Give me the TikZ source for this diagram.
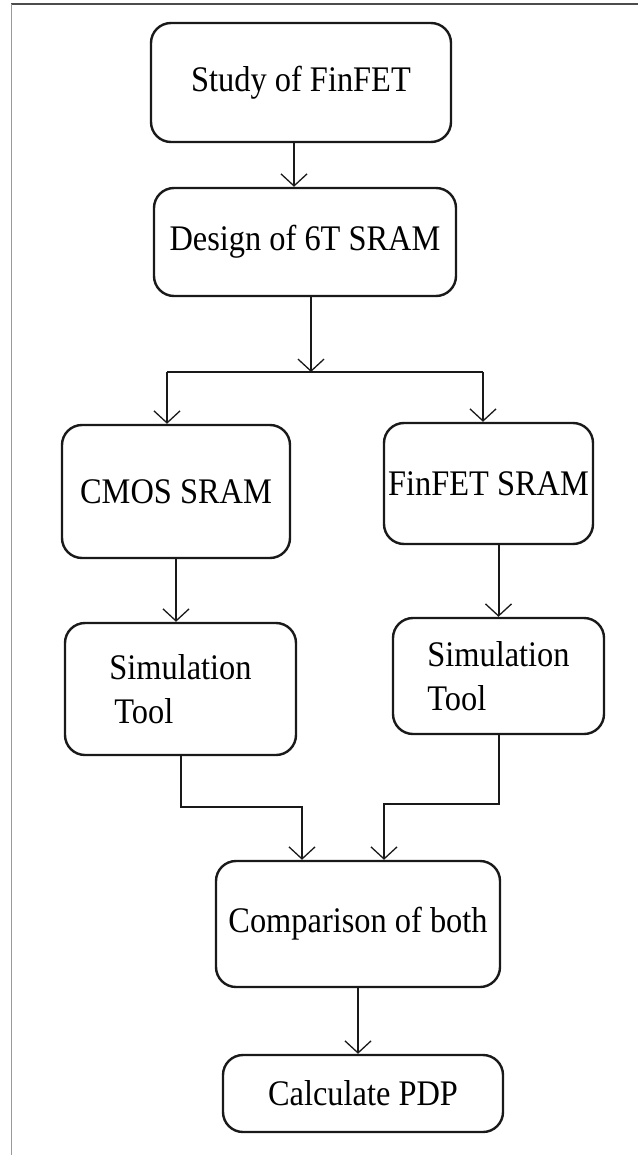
\documentclass[tikz,border=0pt]{standalone}
\usepackage{fontspec}
\setmainfont{Liberation Serif}[FakeStretch=0.9]
\usetikzlibrary{arrows.meta}

\begin{document}
\begin{tikzpicture}[x=1pt, y=-1pt,
    stage/.style={draw=black!90, line width=2.4pt, rounded corners=20pt, align=center,
      inner sep=0pt, font=\fontsize{36}{44}\selectfont},
    flow/.style={draw=black!90, line width=2pt,
      -{Straight Barb[length=12pt, width=26pt, line width=1.3pt]}},
    wire/.style={draw=black!90, line width=2pt}]
  \useasboundingbox (0,0) rectangle (638,1155);

  % page frame
  \draw[black!70, line width=1.5pt] (11,4) -- (638,4);
  \draw[black!40, line width=1pt] (11,4) -- (11,1155);

  \node[stage, minimum width=300pt, minimum height=119pt] (study)   at (301,82.5)   {Study of FinFET};
  \node[stage, minimum width=302pt, minimum height=108pt] (design)  at (305,242)    {Design of 6T SRAM};
  \node[stage, minimum width=228pt, minimum height=133pt] (cmos)    at (176,491.5)  {CMOS SRAM};
  \node[stage, minimum width=209pt, minimum height=121pt] (finsram) at (488.5,483.5) {FinFET SRAM};
  \node[stage, minimum width=231pt, minimum height=132pt, align=left] (simcmos) at (180.5,689) {Simulation\\\hspace*{5pt}Tool};
  \node[stage, minimum width=211pt, minimum height=116pt, align=left] (simfin)  at (498.5,676) {Simulation\\Tool};
  \node[stage, minimum width=284pt, minimum height=126pt] (compare) at (358,924)    {Comparison of both};
  \node[stage, minimum width=280pt, minimum height=77pt]  (pdp)     at (363,1093.5) {Calculate PDP};

  \coordinate (split)  at (311,372);
  \coordinate (splitL) at (167,372);
  \coordinate (splitR) at (483,372);
  \coordinate (joinL)  at (302,807);
  \coordinate (joinR)  at (384,804);

  \draw[flow] ([xshift=-7pt]study.south) -- ([xshift=-7pt]study.south |- design.north);
  \draw[flow] (design.south -| split) -- (split);
  \draw[wire] (splitL) -- (splitR);
  \draw[flow] (splitL) -- (splitL |- cmos.north);
  \draw[flow] (splitR) -- (splitR |- finsram.north);

  \draw[flow] (cmos.south) -- (cmos.south |- simcmos.north);
  \draw[flow] (simfin.north |- finsram.south) -- (simfin.north);

  \draw[flow] (simcmos.south) |- (joinL) -- (joinL |- compare.north);
  \draw[flow] (simfin.south) |- (joinR) -- (joinR |- compare.north);

  \draw[flow] (compare.south) -- (compare.south |- pdp.north);
\end{tikzpicture}
\end{document}
